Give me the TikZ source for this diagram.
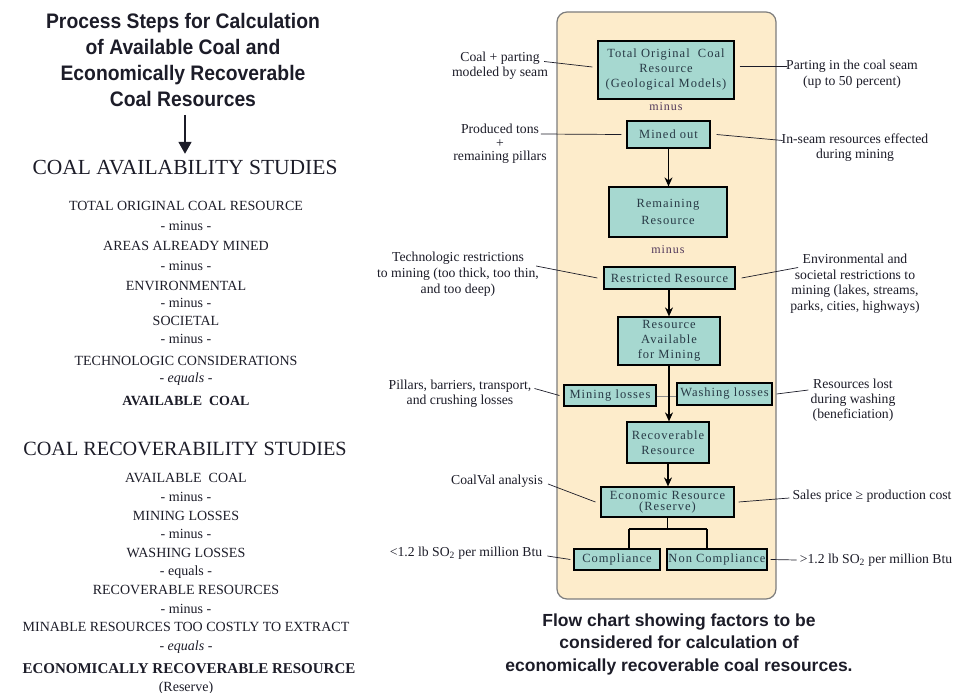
\documentclass[tikz,border=0pt]{standalone}
\usepackage{fontspec}
\setmainfont{Liberation Serif}
\newfontfamily\condfont[FakeStretch=0.92]{Liberation Sans}
\newfontfamily\capfont{Liberation Sans}
\newfontfamily\boxfont[LetterSpace=8]{Liberation Serif}
\usetikzlibrary{arrows.meta}
\definecolor{panelfill}{RGB}{253,236,203}
\definecolor{panelline}{RGB}{125,125,125}
\definecolor{boxfill}{RGB}{166,216,208}
\definecolor{boxtext}{RGB}{40,58,70}
\definecolor{inkc}{RGB}{28,28,40}
\definecolor{minusc}{RGB}{80,55,90}
\tikzset{
  box/.style={draw=black, line width=1.2pt, fill=boxfill, text=boxtext,
    font=\boxfont\fontsize{12.5}{15}\selectfont, align=center, inner sep=0pt},
  ann/.style={font=\fontsize{13.7}{15}\selectfont, align=center, text=inkc, inner sep=0pt},
  lead/.style={draw=inkc, line width=0.7pt},
  arr/.style={-{Stealth[length=9pt,width=8pt]}, line width=1.3pt},
  treeline/.style={line width=1.2pt},
  lst/.style={font=\fontsize{14}{15}\selectfont, text=inkc, inner sep=0pt, text height=9.5pt, text depth=0pt},
  head/.style={font=\fontsize{21.5}{24}\selectfont, text=inkc, inner sep=0pt, text height=14pt, text depth=0pt},
  minuslab/.style={font=\boxfont\fontsize{12}{13}\selectfont, text=minusc, inner sep=0pt}
}
\begin{document}
\begin{tikzpicture}[x=1pt,y=-1pt]
\useasboundingbox (0,0) rectangle (956,693);
% ---------- left column ----------
\node[font=\condfont\bfseries\fontsize{21}{26}\selectfont, text=inkc, align=center, inner sep=0pt]
  (title) at (183,60) {Process Steps for Calculation\\of Available Coal and\\Economically Recoverable\\Coal Resources};
\node[head] (hA) at (185,167) {COAL AVAILABILITY STUDIES};
\draw[-{Triangle[length=12pt,width=13pt]}, line width=1.8pt, inkc]
  ([yshift=-8pt]title.south -| hA.north) -- ([yshift=6pt]hA.north);
\node[lst] (l1) at (186,206) {TOTAL ORIGINAL COAL RESOURCE};
\node[lst] (l2) at (186,226) {- minus -};
\node[lst] (l3) at (186,246) {AREAS ALREADY MINED};
\node[lst] (l4) at (186,266) {- minus -};
\node[lst] (l5) at (186,286) {ENVIRONMENTAL};
\node[lst] (l6) at (186,303) {- minus -};
\node[lst] (l7) at (186,321) {SOCIETAL};
\node[lst] (l8) at (186,339) {- minus -};
\node[lst] (l9) at (186,361) {TECHNOLOGIC CONSIDERATIONS};
\node[lst] (l10) at (186,378) {- \textit{equals} -};
\node[lst, font=\bfseries\fontsize{14}{15}\selectfont] (l11) at (186,401) {AVAILABLE\ \ COAL};
\node[head, font=\fontsize{20.2}{24}\selectfont] (hB) at (185,448) {COAL RECOVERABILITY STUDIES};
\node[lst] (m1) at (186,478) {AVAILABLE\ \ COAL};
\node[lst] (m2) at (186,497) {- minus -};
\node[lst] (m3) at (186,516) {MINING LOSSES};
\node[lst] (m4) at (186,534) {- minus -};
\node[lst] (m5) at (186,553) {WASHING LOSSES};
\node[lst] (m6) at (186,571) {- equals -};
\node[lst] (m7) at (186,590) {RECOVERABLE RESOURCES};
\node[lst] (m8) at (186,609) {- minus -};
\node[lst] (m9) at (186,627) {MINABLE RESOURCES TOO COSTLY TO EXTRACT};
\node[lst] (m10) at (186,646) {- \textit{equals} -};
\node[lst, font=\bfseries\fontsize{15}{16}\selectfont, text height=10.5pt] (m11) at (189,668) {ECONOMICALLY RECOVERABLE RESOURCE};
\node[lst] (m12) at (186,687) {(Reserve)};
% ---------- right panel ----------
\node[draw=panelline, line width=1.2pt, fill=panelfill, rounded corners=10pt,
  minimum width=219pt, minimum height=587pt, inner sep=0pt] (panel) at (666.5,305.5) {};
\node[box, minimum width=136pt, minimum height=58pt] (tocr) at (666,70) {Total Original\ \ Coal\\Resource\\(Geological Models)};
\node[minuslab] (mn1) at (666,107) {minus};
\node[box, minimum width=83pt, minimum height=27pt] (mined) at (668.5,134.5) {Mined out};
\node[box, minimum width=118pt, minimum height=50pt, font=\boxfont\fontsize{12.5}{16.5}\selectfont] (remain) at (668,212) {Remaining\\Resource};
\node[minuslab] (mn2) at (668,250) {minus};
\node[box, minimum width=131pt, minimum height=22pt] (restr) at (669.5,278) {Restricted Resource};
\node[box, minimum width=102pt, minimum height=48pt] (avail) at (669,341) {Resource\\Available\\for Mining};
\node[box, minimum width=92pt, minimum height=21pt] (mloss) at (610,395.5) {Mining losses};
\node[box, minimum width=95pt, minimum height=22pt] (wloss) at (724.5,394) {Washing losses};
\draw[draw=gray!90, line width=1pt] (mloss.east |- 0,396.5) -- (wloss.west |- 0,396.5);
\node[box, minimum width=82pt, minimum height=41pt] (recov) at (668,442.5) {Recoverable\\Resource};
\node[box, minimum width=133pt, minimum height=30pt, font=\boxfont\fontsize{12.5}{11.5}\selectfont] (econ) at (667.5,502) {Economic Resource\\(Reserve)};
\node[box, minimum width=86pt, minimum height=21pt] (comp) at (617,559.5) {Compliance};
\node[box, minimum width=100pt, minimum height=21pt] (noncomp) at (717,559.5) {Non Compliance};
% arrows
\draw[arr] (mined.south) -- (mined.south |- remain.north);
\draw[arr] (restr.south -| avail.north) -- (avail.north);
\draw[arr] (avail.south) -- (avail.south |- recov.north);
\draw[arr] (recov.south) -- (recov.south |- econ.north);
\coordinate (tl) at (629,529);
\coordinate (tr) at (707,529);
\draw[treeline] (econ.south) -- (econ.south |- tl);
\draw[treeline] (tl) -- (tr);
\draw[treeline] (tl) -- (tl |- comp.north);
\draw[treeline] (tr) -- (tr |- noncomp.north);
% ---------- annotations ----------
\node[ann] (a1) at (500,65.5) {Coal + parting\\modeled by seam};
\draw[lead] ([xshift=-4pt,yshift=4pt]a1.east) -- ([xshift=-5pt,yshift=3pt]tocr.west);
\node[ann, font=\fontsize{13.7}{16}\selectfont] (a2) at (852,74) {Parting in the coal seam\\(up to 50 percent)};
\draw[lead] ([xshift=5pt,yshift=4pt]tocr.east) -- ([xshift=1pt,yshift=8pt]a2.west);
\node[ann, font=\fontsize{13.7}{13.5}\selectfont] (a3) at (500,144) {Produced tons\\+\\remaining pillars};
\draw[lead] ([xshift=-6pt,yshift=10pt]a3.east) -- ([xshift=-5pt]mined.west);
\node[ann] (a4) at (855,147.5) {In-seam resources effected\\during mining};
\draw[lead] ([xshift=6pt]mined.east) -- ([xshift=1pt,yshift=7pt]a4.west);
\node[ann, font=\fontsize{13.7}{16}\selectfont] (a5) at (458,274) {Technologic restrictions\\to mining (too thick, too thin,\\and too deep)};
\draw[lead] ([xshift=-3pt,yshift=8pt]a5.east) -- ([xshift=-6pt]restr.west);
\node[ann, font=\fontsize{13.7}{15.5}\selectfont] (a6) at (855,283.5) {Environmental and\\societal restrictions to\\mining (lakes, streams,\\parks, cities, highways)};
\draw[lead] ([xshift=6pt]restr.east) -- ([xshift=8pt,yshift=16pt]a6.west);
\node[ann] (a7) at (460,393.5) {Pillars, barriers, transport,\\and crushing losses};
\draw[lead] ([xshift=3pt,yshift=5pt]a7.east) -- ([xshift=-4pt]mloss.west);
\node[ann] (a8) at (853,400) {Resources lost\\during washing\\(beneficiation)};
\draw[lead] ([xshift=4pt]wloss.east) -- ([xshift=-2pt,yshift=10pt]a8.west);
\node[ann] (a9) at (497,481) {CoalVal analysis};
\draw[lead] ([xshift=5pt,yshift=-3pt]a9.east) -- ([xshift=-5pt]econ.west);
\node[ann] (a10) at (872,496) {Sales price ≥ production cost};
\draw[lead] ([xshift=4pt]econ.east) -- ([xshift=-3pt,yshift=-2pt]a10.west);
\node[ann] (a11) at (466,553) {<1.2 lb SO\textsubscript{2} per million Btu};
\draw[lead] ([xshift=5pt,yshift=-3pt]a11.east) -- ([xshift=-3pt]comp.west);
\node[ann] (a12) at (876,560) {>1.2 lb SO\textsubscript{2} per million Btu};
\draw[lead] ([xshift=3pt]noncomp.east) -- ([xshift=-3pt]a12.west);
% caption
\node[font=\capfont\bfseries\fontsize{17.5}{22.5}\selectfont, text=inkc, align=center, inner sep=0pt]
  (cap) at (679,644) {Flow chart showing factors to be\\considered for calculation of\\economically recoverable coal resources.};
\end{tikzpicture}
\end{document}
